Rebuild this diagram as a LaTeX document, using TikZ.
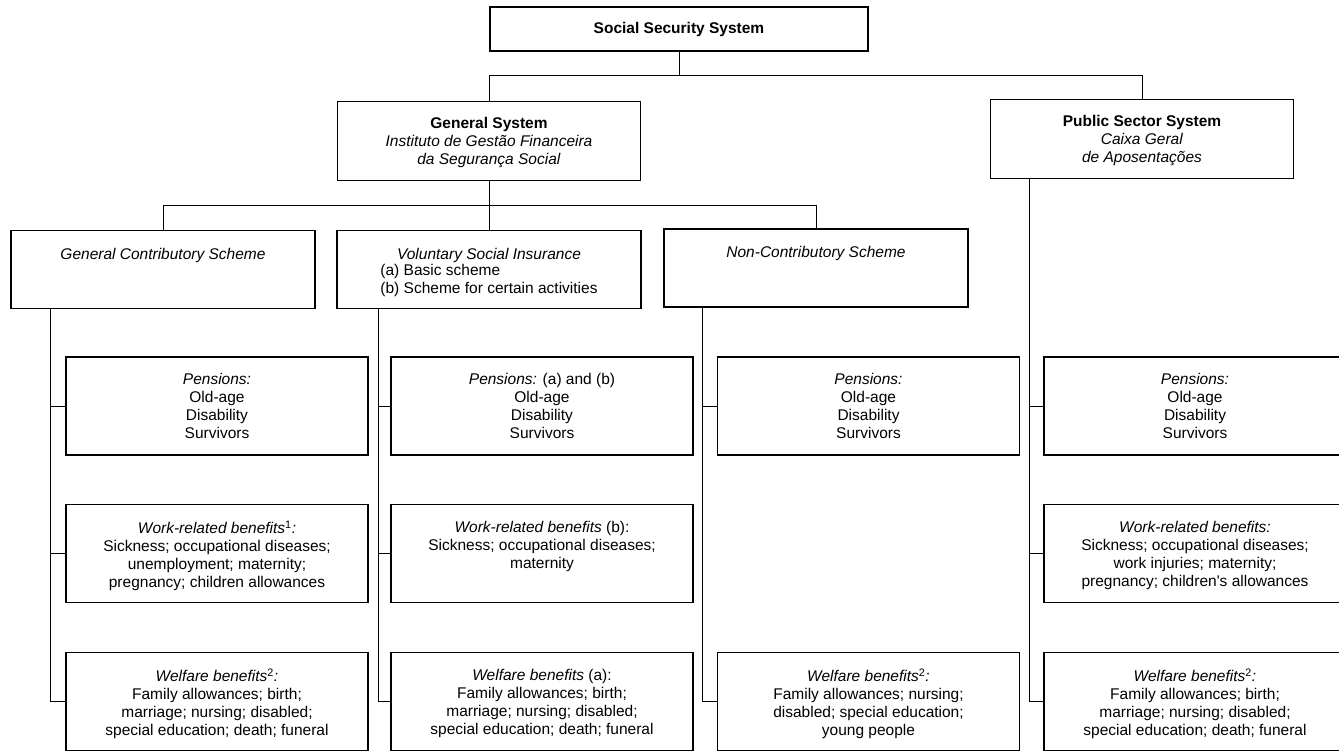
\documentclass[tikz,border=0pt]{standalone}
\usepackage{fontspec}
\setmainfont{Liberation Sans}
\usetikzlibrary{positioning}

\tikzset{
	box/.style={draw, line width=1.5pt, inner sep=0pt},
	topbox/.style={box, minimum width=378pt, minimum height=44pt},
	sysbox/.style={box, minimum width=303pt, minimum height=79pt},
	schemebox/.style={box, minimum width=304pt, minimum height=78pt},
	benefitbox/.style={box, minimum width=302pt, minimum height=98pt},
	txt/.style={align=center, inner sep=0pt, font=\fontsize{15.5}{18}\selectfont},
	link/.style={line width=0.9pt},
}

\begin{document}
\begin{tikzpicture}[x=1pt, y=-1pt]
		\useasboundingbox (0, 0) rectangle (1339, 751);
		% top of the tree
		\node[topbox, txt] (ssys) at (679, 29) {\textbf{Social Security System}};
		% the two systems
		\node[sysbox] (gen) at (489, 141) {};
		\node[txt, below=16pt of gen.north] (gent) {\textbf{General System}\\\textit{Instituto de Gestão Financeira}\\\textit{da Segurança Social}};
		\node[sysbox] (pub) at (1142, 139) {};
		\node[txt, below=16pt of pub.north] (pubt) {\textbf{Public Sector System}\\\textit{Caixa Geral}\\\textit{de Aposentações}};
		% schemes of the general system
		\node[schemebox] (gc) at (163, 269.5) {};
		\node[txt, below=18pt of gc.north] (gct) {\textit{General Contributory Scheme}};
		\node[schemebox] (vol) at (489, 269.5) {};
		\node[txt, below=18pt of vol.north] (volt) {\textit{Voluntary Social Insurance}\\
			\begin{tabular}{@{}l@{}}(a) Basic scheme\\(b) Scheme for certain activities\end{tabular}};
		\node[schemebox] (nc) at (816, 268) {};
		\node[txt, below=18pt of nc.north] (nct) {\textit{Non-Contributory Scheme}};

		% first column
		\node[benefitbox] (gcpen) at (217, 406) {};
		\node[txt, below=17pt of gcpen.north] {\textit{Pensions:}\\Old-age\\Disability\\Survivors};
		\node[benefitbox] (gcwork) at (217, 553.5) {};
		\node[txt, below=17pt of gcwork.north] {\textit{Work-related benefits}\textsuperscript{1}\textit{:}\\Sickness; occupational diseases;\\unemployment; maternity;\\pregnancy; children allowances};
		\node[benefitbox] (gcwelf) at (217, 701.5) {};
		\node[txt, below=17pt of gcwelf.north] {\textit{Welfare benefits}\textsuperscript{2}\textit{:}\\Family allowances; birth;\\marriage; nursing; disabled;\\special education; death; funeral};
		% second column
		\node[benefitbox] (volpen) at (542, 406) {};
		\node[txt, below=17pt of volpen.north] {\textit{Pensions:} (a) and (b)\\Old-age\\Disability\\Survivors};
		\node[benefitbox] (volwork) at (542, 553.5) {};
		\node[txt, below=17pt of volwork.north] {\textit{Work-related benefits} (b):\\Sickness; occupational diseases;\\maternity};
		\node[benefitbox] (volwelf) at (542, 701.5) {};
		\node[txt, below=17pt of volwelf.north] {\textit{Welfare benefits} (a):\\Family allowances; birth;\\marriage; nursing; disabled;\\special education; death; funeral};
		% third column
		\node[benefitbox] (ncpen) at (868.5, 406) {};
		\node[txt, below=17pt of ncpen.north] {\textit{Pensions:}\\Old-age\\Disability\\Survivors};
		\node[benefitbox] (ncwelf) at (868.5, 701.5) {};
		\node[txt, below=17pt of ncwelf.north] {\textit{Welfare benefits}\textsuperscript{2}\textit{:}\\Family allowances; nursing;\\disabled; special education;\\young people};
		% fourth column, cut by the right edge
		\node[benefitbox] (pubpen) at (1195, 406) {};
		\node[txt, below=17pt of pubpen.north] {\textit{Pensions:}\\Old-age\\Disability\\Survivors};
		\node[benefitbox] (pubwork) at (1195, 553.5) {};
		\node[txt, below=17pt of pubwork.north] {\textit{Work-related benefits:}\\Sickness; occupational diseases;\\work injuries; maternity;\\pregnancy; children\textquotesingle s allowances};
		\node[benefitbox] (pubwelf) at (1195, 701.5) {};
		\node[txt, below=17pt of pubwelf.north] {\textit{Welfare benefits}\textsuperscript{2}\textit{:}\\Family allowances; birth;\\marriage; nursing; disabled;\\special education; death; funeral};

		% branching under the top box
		\coordinate (j1) at (679, 75);
		\draw[link] (ssys) -- (j1);
		\draw[link] (gen.north) -- (gen.north |- j1) -- (pub.north |- j1) -- (pub.north);
		% branching under the general system
		\coordinate (j2) at (489, 205);
		\draw[link] (gen) -- (vol);
		\draw[link] (gc.north) -- (gc.north |- j2) -- (nc.north |- j2) -- (nc.north);
		% spines down each column
		\draw[link] ([xshift=-15pt]gcpen.west |- gc.south) |- (gcwelf.west);
		\draw[link] ([xshift=-15pt]gcpen.west) -- (gcpen.west);
		\draw[link] ([xshift=-15pt]gcwork.west) -- (gcwork.west);
		\draw[link] ([xshift=-12pt]volpen.west |- vol.south) |- (volwelf.west);
		\draw[link] ([xshift=-12pt]volpen.west) -- (volpen.west);
		\draw[link] ([xshift=-12pt]volwork.west) -- (volwork.west);
		\draw[link] ([xshift=-14pt]ncpen.west |- nc.south) |- (ncwelf.west);
		\draw[link] ([xshift=-14pt]ncpen.west) -- (ncpen.west);
		\draw[link] ([xshift=-14pt]pubpen.west |- pub.south) |- (pubwelf.west);
		\draw[link] ([xshift=-14pt]pubpen.west) -- (pubpen.west);
		\draw[link] ([xshift=-14pt]pubwork.west) -- (pubwork.west);
	\end{tikzpicture}
\end{document}
